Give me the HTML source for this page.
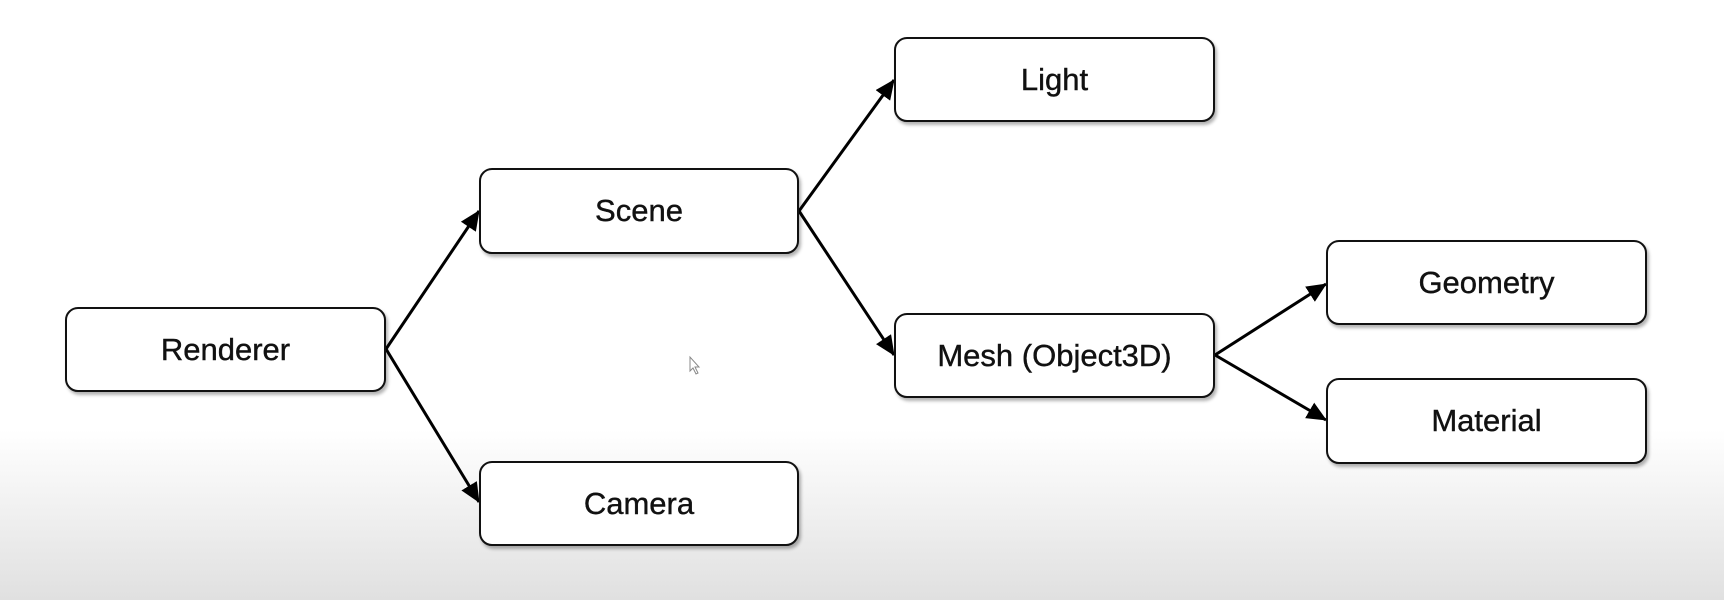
<!DOCTYPE html>
<html><head><style>
body{margin:0;width:1724px;height:600px;overflow:hidden;background:linear-gradient(#fff 0,#fff 430px,#e0e0e0 600px);font-family:"Liberation Sans",sans-serif;position:relative}
.b{position:absolute;box-sizing:border-box;border:2px solid #111;border-radius:13px;background:#fff;box-shadow:2px 3px 3px rgba(0,0,0,.3);display:flex;align-items:center;justify-content:center;font-size:31px;color:#111;-webkit-text-stroke:0.4px #111}
svg{position:absolute;left:0;top:0}
</style></head><body>
<svg width="1724" height="600">
<defs>
<marker id="m" markerWidth="20" markerHeight="18" refX="19" refY="9" orient="auto" markerUnits="userSpaceOnUse"><path d="M0,0L20,9L0,18z" fill="#000"/></marker></defs>
<g stroke="#000" stroke-width="3" fill="none" marker-end="url(#m)">
<line x1="386" y1="349" x2="479" y2="211"/>
<line x1="386" y1="349" x2="479" y2="502"/>
<line x1="799" y1="211" x2="894" y2="80"/>
<line x1="799" y1="211" x2="894" y2="355"/>
<line x1="1215" y1="355" x2="1326" y2="284"/>
<line x1="1215" y1="355" x2="1326" y2="420"/>
</g>
<path d="M690,357 l0,14 l3,-3 l3,6 l2,-1 l-3,-6 l4,0z" fill="#fff" stroke="#888" stroke-width="1"/>
</svg>
<div class="b" style="left:65px;top:307px;width:321px;height:85px">Renderer</div>
<div class="b" style="left:479px;top:168px;width:320px;height:86px">Scene</div>
<div class="b" style="left:479px;top:461px;width:320px;height:85px">Camera</div>
<div class="b" style="left:894px;top:37px;width:321px;height:85px">Light</div>
<div class="b" style="left:894px;top:313px;width:321px;height:85px">Mesh (Object3D)</div>
<div class="b" style="left:1326px;top:240px;width:321px;height:85px">Geometry</div>
<div class="b" style="left:1326px;top:378px;width:321px;height:86px">Material</div>
</body></html>
